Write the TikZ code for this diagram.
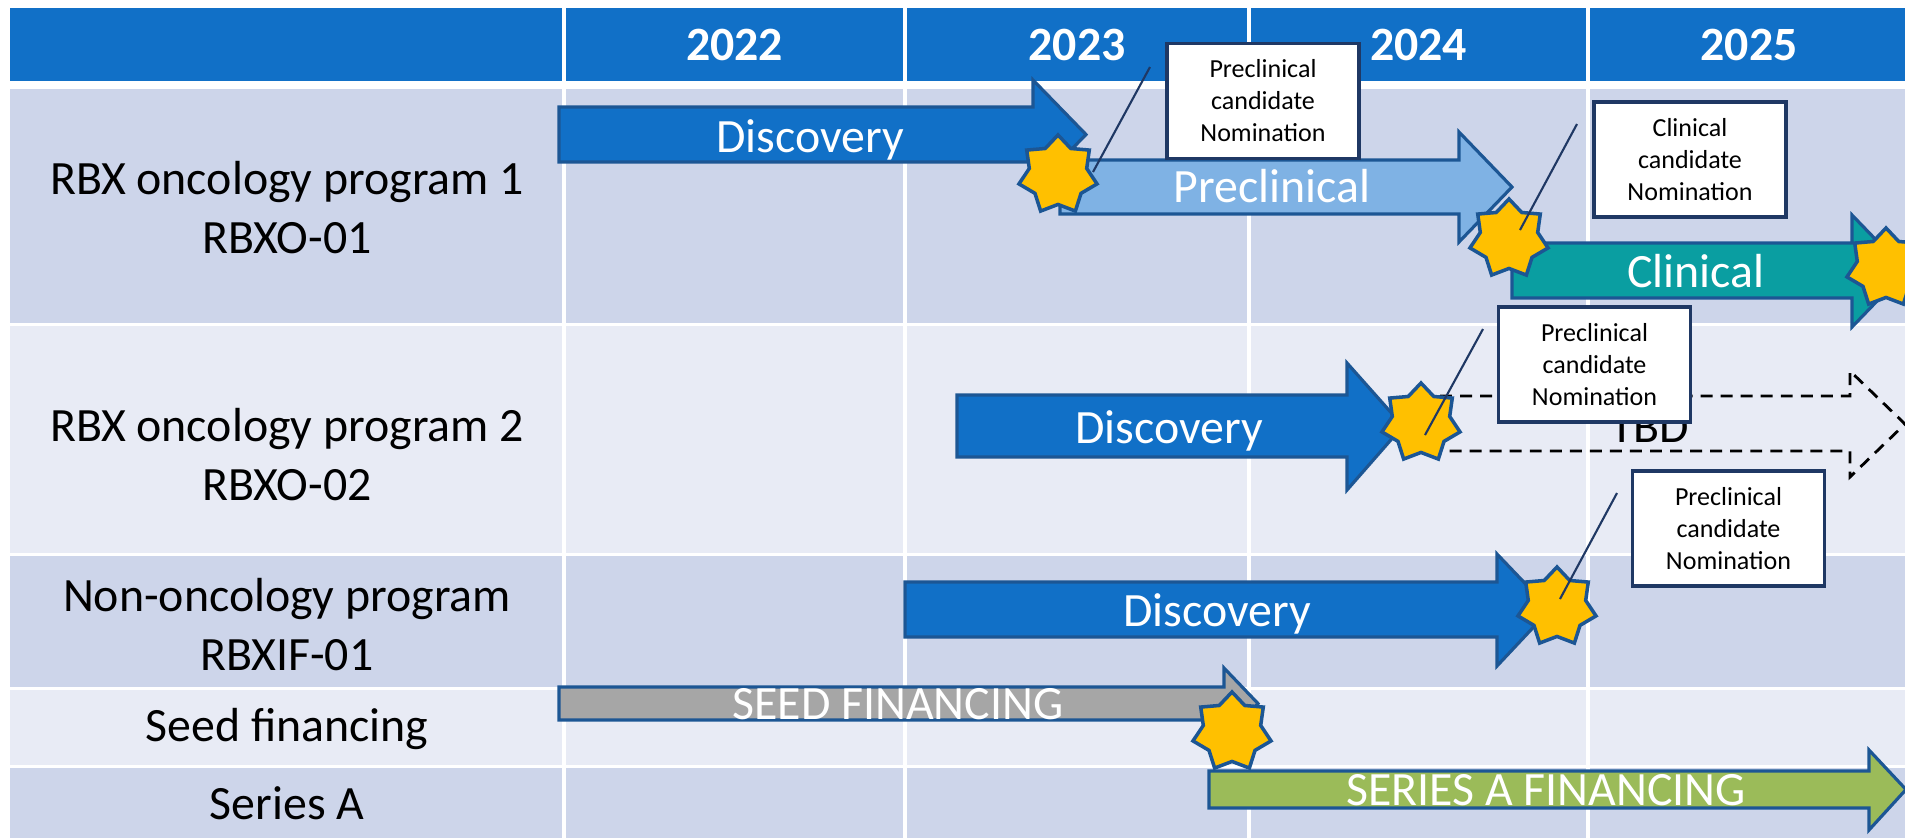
\documentclass[tikz,border=0pt]{standalone}
\usepackage{fontspec}
\setmainfont{Carlito}
\usetikzlibrary{shapes.geometric}

\definecolor{hdrblue}{RGB}{17,112,199}
\definecolor{banddark}{RGB}{205,213,234}
\definecolor{bandlight}{RGB}{232,235,245}
\definecolor{discblue}{RGB}{17,112,199}
\definecolor{precblue}{RGB}{127,178,228}
\definecolor{clinteal}{RGB}{10,158,161}
\definecolor{seedgray}{RGB}{166,166,166}
\definecolor{seriesgreen}{RGB}{155,187,89}
\definecolor{stargold}{RGB}{255,192,0}
\definecolor{edgeblue}{RGB}{28,86,148}
\definecolor{calloutnavy}{RGB}{31,56,100}

\begin{document}
\begin{tikzpicture}[x=0.01cm, y=-0.01cm,
	rowlbl/.style={align=center, inner sep=0pt, font=\fontsize{13.6}{16.8}\selectfont},
	yearlbl/.style={text=white, inner sep=0pt, font=\fontsize{13.6}{16.8}\selectfont\bfseries},
	phasetxt/.style={text=white, anchor=base, inner sep=0pt, font=\fontsize{13.6}{16.8}\selectfont},
	phase/.style={draw=edgeblue, line width=0.9pt},
	tbdline/.style={draw=black, line width=0.8pt, dash pattern=on 3.4pt off 2.3pt},
	milestar/.style={star, star points=7, star point ratio=1.36, minimum size=0.8cm, inner sep=0pt, fill=stargold, draw=edgeblue, line width=1pt},
	nombox/.style={rectangle, draw=calloutnavy, fill=white, line width=1pt, minimum width=1.92cm, minimum height=1.15cm, align=center, inner sep=0pt, font=\fontsize{7.4}{9.1}\selectfont},
	callline/.style={draw=calloutnavy, line width=0.6pt},
	gridline/.style={draw=white, line width=0.9pt}]
	\useasboundingbox[fill=white] (0,0) rectangle (1905,838);
	% table
	\fill[hdrblue] (10,8) rectangle (1905,81);
	\fill[banddark] (10,89) rectangle (1905,323);
	\fill[bandlight] (10,326) rectangle (1905,553);
	\fill[banddark] (10,556) rectangle (1905,687);
	\fill[bandlight] (10,690) rectangle (1905,765);
	\fill[banddark] (10,768) rectangle (1905,838);
	\draw[gridline] (564,8) -- (564,838);
	\draw[gridline] (905,8) -- (905,838);
	\draw[gridline] (1249,8) -- (1249,838);
	\draw[gridline] (1588,8) -- (1588,838);
	\node[yearlbl] (y2022) at (734.5,45) {2022};
	\node[yearlbl] (y2023) at (1077,45) {2023};
	\node[yearlbl] (y2024) at (1418.5,45) {2024};
	\node[yearlbl] (y2025) at (1749,45) {2025};
	\node[rowlbl] (prog1) at (287,208) {RBX oncology program 1\\RBXO-01};
	\node[rowlbl] (prog2) at (287,455) {RBX oncology program 2\\RBXO-02};
	\node[rowlbl] (prog3) at (287,625) {Non-oncology program\\RBXIF-01};
	\node[rowlbl] (seed) at (287,729) {Seed financing};
	\node[rowlbl] (seriesa) at (287,803) {Series A};
	% phases
	\draw[phase, fill=discblue] (559,107) -- (1033,107) -- (1033,80) -- (1086,134.5) -- (1033,189) -- (1033,162) -- (559,162) -- cycle;
	\draw[phase, fill=precblue] (1060,160) -- (1459,160) -- (1459,132) -- (1512,187) -- (1459,242) -- (1459,214) -- (1060,214) -- cycle;
	\draw[phase, fill=clinteal] (1512,243) -- (1852,243) -- (1852,215) -- (1906,271) -- (1852,327) -- (1852,298) -- (1512,298) -- cycle;
	\draw[phase, fill=discblue] (957,395) -- (1347,395) -- (1347,363) -- (1403,426) -- (1347,490) -- (1347,457) -- (957,457) -- cycle;
	\draw[tbdline] (1440,396) -- (1850,396) -- (1850,371) -- (1905,424) -- (1850,477) -- (1850,451) -- (1440,451);
	\draw[phase, fill=discblue] (905,582) -- (1497,582) -- (1497,554) -- (1550,609.5) -- (1497,666) -- (1497,637) -- (905,637) -- cycle;
	\draw[phase, fill=seedgray] (559,687) -- (1224,687) -- (1224,668) -- (1258,703.5) -- (1224,739) -- (1224,720) -- (559,720) -- cycle;
	\draw[phase, fill=seriesgreen] (1209,771) -- (1869,771) -- (1869,750) -- (1906,789.5) -- (1869,830) -- (1869,808) -- (1209,808) -- cycle;
	\node[phasetxt] (disc1) at (810,152) {Discovery};
	\node[phasetxt] (precl) at (1272,202) {Preclinical};
	\node[phasetxt] (clin) at (1696,287) {Clinical};
	\node[phasetxt] (disc2) at (1169,443) {Discovery};
	\node[phasetxt, text=black] (tbd) at (1650,442) {TBD};
	\node[phasetxt] (disc3) at (1217,626) {Discovery};
	\node[phasetxt] (seedfin) at (898,719) {SEED FINANCING};
	\node[phasetxt] (seriesfin) at (1546,805) {SERIES A FINANCING};
	% milestones
	\node[milestar] (s1) at (1058,175) {};
	\node[milestar] (s2) at (1509,239) {};
	\node[milestar] (s3) at (1886,268) {};
	\node[milestar] (s4) at (1421,423) {};
	\node[milestar] (s5) at (1557,607) {};
	\node[milestar] (s6) at (1232,732) {};
	\node[nombox] (nom1) at (1263,101) {Preclinical\\candidate\\Nomination};
	\node[nombox] (nom2) at (1690,159.5) {Clinical\\candidate\\Nomination};
	\node[nombox] (nom3) at (1594.5,364.5) {Preclinical\\candidate\\Nomination};
	\node[nombox] (nom4) at (1728.5,528.5) {Preclinical\\candidate\\Nomination};
	\coordinate (nom1end) at (1150,67);
	\coordinate (s1pt) at (1093,172);
	\coordinate (nom2end) at (1577,124);
	\coordinate (s2pt) at (1520,230);
	\coordinate (nom3end) at (1483,329);
	\coordinate (s4pt) at (1425,435);
	\coordinate (nom4end) at (1617,493);
	\coordinate (s5pt) at (1560,599);
	\draw[callline] (nom1end) -- (s1pt);
	\draw[callline] (nom2end) -- (s2pt);
	\draw[callline] (nom3end) -- (s4pt);
	\draw[callline] (nom4end) -- (s5pt);
\end{tikzpicture}
\end{document}
